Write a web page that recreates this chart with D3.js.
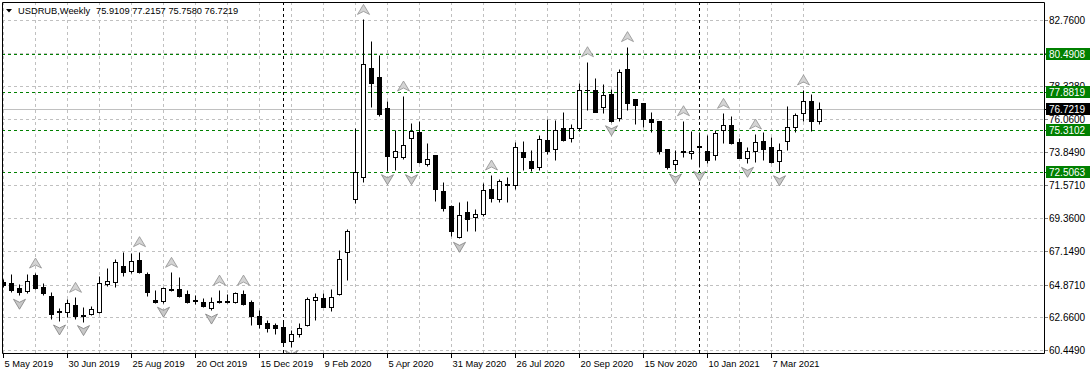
<!DOCTYPE html>
<html lang="en">
<head>
<meta charset="UTF-8">
<title>USDRUB,Weekly</title>
<style>
    body { margin: 0; background: #fff; }
    svg text { font-family: "Liberation Sans", Arial, sans-serif; }
</style>
</head>
<body>
<div id="chart"></div>
<script src="https://cdn.jsdelivr.net/npm/d3@7/dist/d3.min.js"></script>
<script>
    var symbol = "USDRUB,Weekly";
    var firstWeek = "2019-05-05", lastWeek = "2021-04-18";

    var open = [65.05,65.0,64.62,64.44,65.52,64.69,64.08,63.02,63.0,63.47,
        62.74,62.86,63.04,64.9,65.07,66.11,65.79,66.53,65.59,63.83,
        63.78,64.57,64.55,64.23,63.8,63.72,63.27,63.7,63.74,63.72,
        64.23,63.67,62.72,62.25,62.12,61.98,61.06,61.51,62.14,63.83,
        63.94,63.37,64.21,67.05,70.64,72.12,79.49,78.89,76.79,73.48,
        73.48,74.76,75.17,73.0,73.63,71.2,70.19,68.11,69.8,69.46,
        69.63,71.31,70.66,71.63,71.6,73.86,73.25,72.8,74.65,74.02,
        75.44,74.76,75.48,78.01,78.03,76.86,77.76,76.11,79.43,77.4,
        77.13,76.05,75.95,74.04,73.0,73.84,73.75,74.18,73.88,73.6,
        75.3,75.66,74.49,73.45,73.9,74.58,74.15,73.23,74.58,75.55,
        76.45,77.3,75.9109];
    var high = [65.25,65.6,64.9,65.57,65.65,65.0,64.35,63.27,63.88,64.01,
        63.37,63.42,65.45,65.97,66.58,67.05,66.98,67.1,65.74,64.5,
        64.74,65.7,65.41,64.5,64.17,63.95,64.06,64.5,64.21,64.39,
        64.5,63.83,63.15,62.47,62.3,62.47,61.8,62.25,64.01,64.28,
        64.32,64.55,67.2,68.65,75.44,82.8,81.34,80.39,77.3,75.32,
        77.62,75.77,75.93,74.42,73.65,71.79,70.25,70.43,70.52,69.96,
        71.72,72.28,71.99,72.12,74.53,74.58,73.97,74.98,76.05,76.0,
        76.56,75.73,78.52,79.94,78.82,78.43,78.07,79.43,80.96,77.4,
        77.13,76.56,75.95,74.04,73.97,75.95,75.28,75.21,74.98,75.3,
        76.45,76.27,74.76,74.2,75.05,75.21,74.87,74.46,76.94,76.49,
        78.03,77.76,77.2157];
    var low = [64.7,64.35,64.15,64.28,64.55,64.17,62.54,62.41,62.66,62.54,
        62.37,62.8,62.97,64.8,64.69,65.45,65.64,65.64,64.12,63.65,
        63.61,64.44,64.01,63.65,63.56,63.33,63.15,63.61,63.61,63.65,
        63.49,62.14,61.92,61.65,61.53,60.7,60.66,61.35,62.1,62.47,
        63.33,63.1,64.17,65.2,70.41,71.83,76.9,76.27,72.57,72.62,
        73.36,72.57,73.07,72.91,70.54,69.85,68.18,68.0,68.52,68.52,
        69.53,70.43,70.43,70.43,71.33,72.62,72.57,72.62,73.7,73.29,
        74.6,74.53,75.26,76.67,76.56,76.49,75.88,75.95,76.67,75.73,
        75.51,75.21,73.7,72.69,72.62,73.52,73.34,72.8,73.07,73.3,
        74.46,74.38,73.41,73.07,73.18,73.29,73.11,72.5,73.97,75.17,
        75.95,75.28,75.758];
    var close = [64.85,64.5,64.35,65.14,64.62,64.28,62.87,63.06,63.61,62.76,
        62.8,63.2,65.0,65.12,66.38,65.73,66.49,65.7,64.35,63.7,
        64.62,64.5,64.08,63.67,63.76,63.45,63.67,63.74,63.7,64.28,
        63.54,62.72,62.19,61.96,61.96,60.97,61.51,61.92,63.88,64.01,
        63.37,64.01,66.58,68.52,72.46,79.76,78.48,76.41,73.59,73.9,
        74.31,75.26,73.18,73.34,71.33,70.07,68.52,69.58,69.29,69.65,
        71.27,70.7,71.87,71.67,74.2,73.52,72.73,74.69,73.92,75.32,
        74.65,75.44,78.03,78.05,76.56,77.69,75.95,79.22,77.13,77.01,
        76.05,75.88,73.92,72.8,73.29,73.88,73.92,74.22,73.3,75.12,
        75.64,74.46,73.45,73.9,74.49,74.04,73.18,73.97,75.55,76.34,
        77.3,75.9,76.7219];

    // bars with a fractal arrow above (up) or below (down)
    var fractalUp = [4,9,17,21,27,30,45,50,61,73,78,85,90,94,100];
    var fractalDown = [2,7,10,20,26,36,48,51,57,76,84,87,93,97];

    var levels = [80.4908, 77.8819, 75.3102, 72.5063];
    var priceTicks = ["82.7600","80.5290","78.3280","76.0600","73.8490","71.5710",
        "69.3600","67.1490","64.8710","62.6600","60.4490"];
    var dateTicks = ["2019-05-05","2019-06-30","2019-08-25","2019-10-20","2019-12-15",
        "2020-02-09","2020-04-05","2020-05-31","2020-07-26","2020-09-20",
        "2020-11-15","2021-01-10","2021-03-07"];
    var separators = ["2020-01-05","2021-01-03"];

    var width = 1091, height = 374;
    var pLeft = 2, pTop = 2, pRight = 1044, pBottom = 353;

    var parse = d3.utcParse("%Y-%m-%d");
    var fmtDate = d3.utcFormat("%-d %b %Y");
    var weeks = d3.utcWeek.range(parse(firstWeek), d3.utcDay.offset(parse(lastWeek), 1));

    var bars = weeks.map(function(d, i){
        return {i: i, date: d, o: open[i], h: high[i], l: low[i], c: close[i]};
    });

    var x = d3.scaleUtc()
        .domain([parse(firstWeek), parse(lastWeek)])
        .range([3.5, 819.5]);
    var y = d3.scaleLinear()
        .domain([60.449, 82.76])
        .range([350, 20]);
    var py = function(v){ return Math.round(y(v)) + 0.5; };

    var svg = d3.select("#chart").append("svg")
        .attr("width", width)
        .attr("height", height);

    svg.append("clipPath").attr("id", "plot")
        .append("rect")
        .attr("x", pLeft).attr("y", pTop)
        .attr("width", pRight - pLeft).attr("height", pBottom - pTop);

    var g = svg.append("g").attr("clip-path", "url(#plot)");

    // grid
    g.selectAll(".hgrid").data(priceTicks).enter().append("line")
        .attr("x1", pLeft).attr("x2", pRight)
        .attr("y1", function(d){ return py(+d); })
        .attr("y2", function(d){ return py(+d); })
        .attr("stroke", "#c0c0c0").attr("stroke-dasharray", "3,3");
    g.selectAll(".vgrid").data(weeks.filter(function(d, i){ return i % 4 == 0; })).enter().append("line")
        .attr("x1", function(d){ return x(d); }).attr("x2", function(d){ return x(d); })
        .attr("y1", pTop).attr("y2", pBottom)
        .attr("stroke", "#c0c0c0").attr("stroke-dasharray", "3,3");

    // period separators
    g.selectAll(".sep").data(separators).enter().append("line")
        .attr("x1", function(d){ return Math.floor(x(parse(d))) + 0.5; })
        .attr("x2", function(d){ return Math.floor(x(parse(d))) + 0.5; })
        .attr("y1", pTop).attr("y2", pBottom)
        .attr("stroke", "#000").attr("stroke-dasharray", "3,3");

    // current price line
    var last = bars[bars.length - 1];
    g.append("line")
        .attr("x1", pLeft).attr("x2", pRight)
        .attr("y1", py(last.c)).attr("y2", py(last.c))
        .attr("stroke", "#c0c0c0");

    // levels
    g.selectAll(".level").data(levels).enter().append("line")
        .attr("x1", pLeft).attr("x2", pRight)
        .attr("y1", function(d){ return py(d); })
        .attr("y2", function(d){ return py(d); })
        .attr("stroke", "#008000").attr("stroke-dasharray", "3,3");

    // candles
    var candle = g.selectAll(".candle").data(bars).enter().append("g");
    candle.append("line")
        .attr("x1", function(d){ return x(d.date); })
        .attr("x2", function(d){ return x(d.date); })
        .attr("y1", function(d){ return py(d.h); })
        .attr("y2", function(d){ return py(d.l); })
        .attr("stroke", "#000");
    candle.each(function(d){
        var cx = x(d.date);
        var t = py(Math.max(d.o, d.c)), b = py(Math.min(d.o, d.c));
        if (b - t < 1) {
            d3.select(this).append("line")
                .attr("x1", cx - 2.5).attr("x2", cx + 2.5)
                .attr("y1", t).attr("y2", t)
                .attr("stroke", "#000");
        } else {
            d3.select(this).append("rect")
                .attr("x", cx - 2).attr("y", t)
                .attr("width", 4).attr("height", b - t)
                .attr("fill", d.c >= d.o ? "#fff" : "#000")
                .attr("stroke", "#000");
        }
    });

    // fractal arrows
    g.selectAll(".fup").data(fractalUp).enter().append("path")
        .attr("d", function(i){
            var cx = x(bars[i].date), t = y(bars[i].h) - 15;
            return "M" + cx + "," + t + "L" + (cx + 6) + "," + (t + 10) + "L" + cx + "," + (t + 7) +
                "L" + (cx - 6) + "," + (t + 10) + "Z";
        })
        .attr("fill", "#d4d4d4").attr("stroke", "#909090").attr("stroke-width", 0.8);
    g.selectAll(".fdn").data(fractalDown).enter().append("path")
        .attr("d", function(i){
            var cx = x(bars[i].date), b = y(bars[i].l) + 14;
            return "M" + cx + "," + b + "L" + (cx + 6) + "," + (b - 10) + "L" + cx + "," + (b - 7) +
                "L" + (cx - 6) + "," + (b - 10) + "Z";
        })
        .attr("fill", "#c8c8c8").attr("stroke", "#808080").attr("stroke-width", 0.8);

    // frame
    svg.append("path")
        .attr("d", "M" + (pLeft + 0.5) + "," + (pTop + 0.5) + "H" + (pRight + 0.5) +
            "V" + (pBottom + 0.5) + "H" + (pLeft + 0.5) + "Z")
        .attr("fill", "none").attr("stroke", "#000");

    // price axis
    var axisX = pRight + 5;
    svg.selectAll(".ptick").data(priceTicks).enter().append("line")
        .attr("x1", pRight + 1).attr("x2", pRight + 4)
        .attr("y1", function(d){ return py(+d); })
        .attr("y2", function(d){ return py(+d); })
        .attr("stroke", "#808080");
    svg.selectAll(".plabel").data(priceTicks).enter().append("text")
        .attr("x", axisX).attr("y", function(d){ return py(+d) + 3.5; })
        .attr("font-size", "10px").attr("fill", "#000")
        .text(function(d){ return d; });

    var tags = levels.map(function(v){ return {v: v, bg: "#008000"}; })
        .concat([{v: last.c, bg: "#000"}]);
    var tag = svg.selectAll(".tag").data(tags).enter().append("g");
    tag.append("line")
        .attr("x1", pRight + 1).attr("x2", pRight + 4)
        .attr("y1", function(d){ return py(d.v); })
        .attr("y2", function(d){ return py(d.v); })
        .attr("stroke", function(d){ return d.bg; });
    tag.append("rect")
        .attr("x", pRight + 2).attr("y", function(d){ return py(d.v) - 6.5; })
        .attr("width", width - pRight - 3).attr("height", 12)
        .attr("fill", function(d){ return d.bg; });
    tag.append("text")
        .attr("x", axisX).attr("y", function(d){ return py(d.v) + 3.5; })
        .attr("font-size", "10px").attr("fill", "#fff")
        .text(function(d){ return d3.format(".4f")(d.v); });

    // time axis
    svg.selectAll(".dtick").data(dateTicks).enter().append("line")
        .attr("x1", function(d){ return x(parse(d)); })
        .attr("x2", function(d){ return x(parse(d)); })
        .attr("y1", pBottom + 1).attr("y2", pBottom + 5)
        .attr("stroke", "#000");
    svg.selectAll(".dlabel").data(dateTicks).enter().append("text")
        .attr("x", function(d){ return x(parse(d)) + 1; })
        .attr("y", pBottom + 14)
        .attr("font-size", "9.3px").attr("fill", "#000")
        .text(function(d){ return fmtDate(parse(d)); });

    // header
    svg.append("path").attr("d", "M6,9H12L9,12.5Z").attr("fill", "#000");
    svg.append("text").attr("x", 18).attr("y", 14)
        .attr("font-size", "9.3px").attr("fill", "#000")
        .text(symbol);
    svg.append("text").attr("x", 96).attr("y", 14)
        .attr("font-size", "9.3px").attr("fill", "#000")
        .text([last.o, last.h, last.l, last.c].map(d3.format(".4f")).join(" "));
</script>
</body>
</html>
